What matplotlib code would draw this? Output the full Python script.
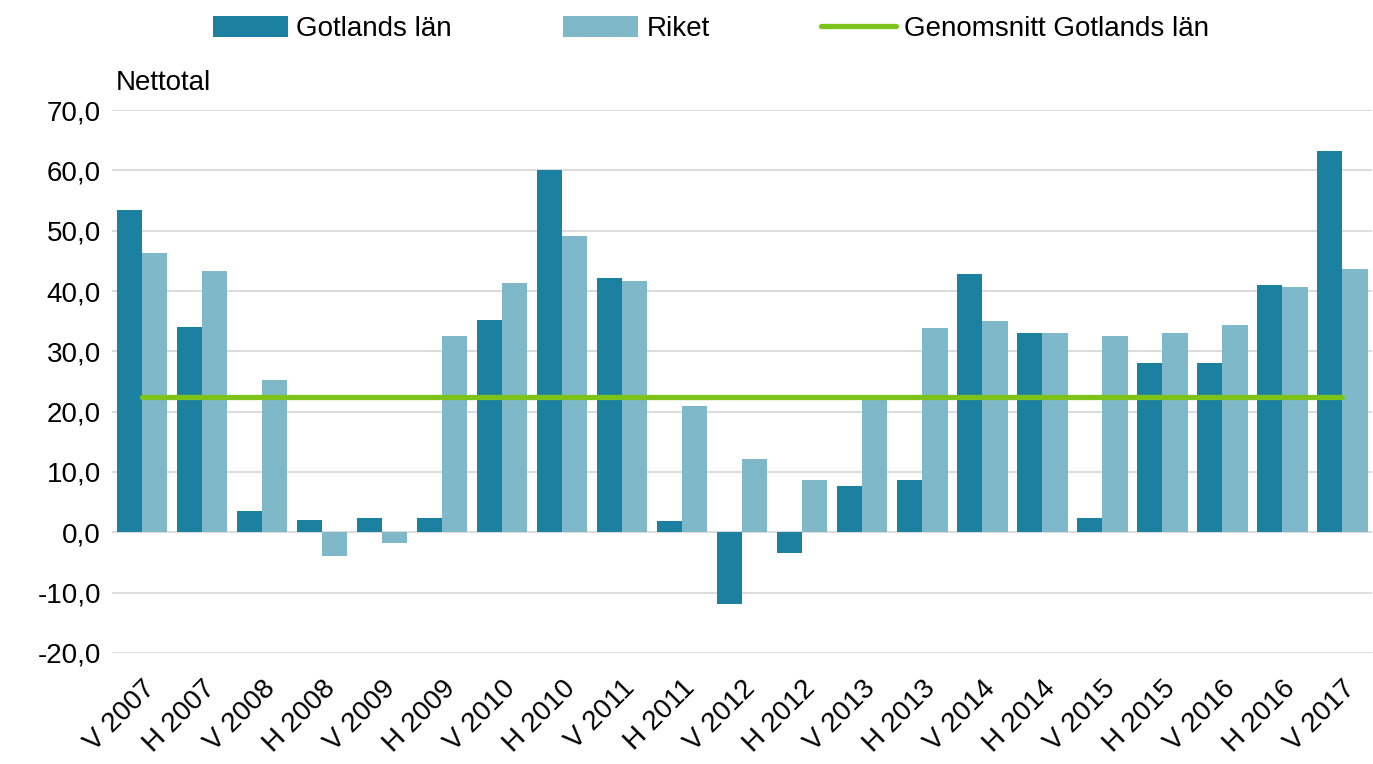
import matplotlib
matplotlib.use("Agg")
import matplotlib.pyplot as plt
import numpy as np

plt.rcParams['font.family'] = ['Liberation Sans', 'DejaVu Sans']

periods = ["V 2007", "H 2007", "V 2008", "H 2008", "V 2009", "H 2009", "V 2010",
           "H 2010", "V 2011", "H 2011", "V 2012", "H 2012", "V 2013", "H 2013",
           "V 2014", "H 2014", "V 2015", "H 2015", "V 2016", "H 2016", "V 2017"]
gotland = [53.4, 34.0, 3.6, 2.0, 2.3, 2.3, 35.2, 60.0, 42.1, 1.8, -11.8, -3.5,
           7.6, 8.6, 42.8, 33.0, 2.3, 28.0, 28.0, 41.0, 63.2]
riket = [46.3, 43.3, 25.2, -4.0, -1.8, 32.5, 41.3, 49.1, 41.6, 20.9, 12.1, 8.6,
         22.7, 33.8, 35.0, 33.0, 32.5, 33.0, 34.3, 40.6, 43.6]
snitt_gotland = 22.4

fig = plt.figure(figsize=(13.73, 7.64), dpi=100)
ax = fig.add_axes([0.0816, 0.1453, 0.918, 0.7107])

x = np.arange(len(periods))
w = 0.42
b1 = ax.bar(x - w / 2, gotland, w, color='#1c81a0', label='Gotlands län', zorder=2)
b2 = ax.bar(x + w / 2, riket, w, color='#7fb8c9', label='Riket', zorder=2)
l1, = ax.plot([x[0], x[-1]], [snitt_gotland, snitt_gotland], color='#7dc31a', lw=3.8,
              label='Genomsnitt Gotlands län', zorder=3, solid_capstyle='round')

ax.set_xlim(-0.5, len(periods) - 0.5)
ax.set_ylim(-20, 70)
ax.set_yticks(np.arange(-20, 71, 10))
ax.set_yticklabels([f"{v:.1f}".replace('.', ',') for v in np.arange(-20, 71, 10)], fontsize=20)
ax.set_xticks(x)
ax.set_xticklabels(periods, rotation=45, ha='right', rotation_mode='anchor', fontsize=20)
ax.tick_params(length=0, pad=8)
ax.tick_params(axis='x', pad=16)
ax.grid(axis='y', color='#d9d9d9', lw=1.3, zorder=0)
for s in ax.spines.values():
    s.set_visible(False)

fig.text(0.084, 0.892, "Nettotal", fontsize=20, va='center', ha='left')
fig.legend(handles=[b1, b2, l1], loc='upper center', bbox_to_anchor=(0.518, 1.012), ncol=3,
           frameon=False, fontsize=20, handlelength=2.7, handleheight=0.8,
           columnspacing=4.0, handletextpad=0.3)

fig.savefig('out.png', dpi=100)
